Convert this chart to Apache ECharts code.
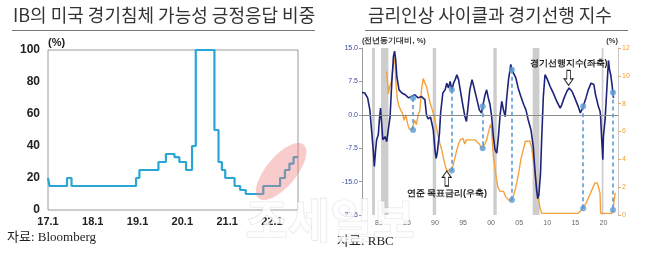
<!DOCTYPE html>
<html>
<head>
<meta charset="utf-8">
<script src="https://cdn.jsdelivr.net/npm/echarts@6/dist/echarts.min.js"></script>
<style>
html,body{margin:0;padding:0;background:#fff;}
#c{width:647px;height:257px;}
</style>
</head>
<body>
<div id="c"></div>
<script>
// ---------- Left chart: share of IBs answering "yes" to US recession (%), monthly, months since 2017.1 ----------
const ibMonths = [0, 0.4, 5.1, 6.3, 23.6, 24.5, 29.6, 31.6, 33.9, 35.2, 37.0, 38.6, 39.6, 44.6, 45.7, 46.6, 47.5, 50.0, 51.5, 53.0, 57.7, 62.2, 63.5, 64.7, 65.8, 67];
const ibValues = [20, 15, 20, 15, 20, 25, 30, 35, 33, 30, 25, 40, 100, 50, 30, 25, 20, 15, 12.5, 10, 15, 20, 25, 29, 33, 33];
const ibTickLabels = ['17.1', '18.1', '19.1', '20.1', '21.1', '22.1'];

// ---------- Right chart: leading index (YoY %, left axis) and Fed target rate (%, right axis) ----------
const leiYears = [1977.0,1977.5,1978.0,1978.4,1978.7,1979.0,1979.2,1979.4,1979.6,1979.9,1980.1,1980.3,1980.5,1980.7,1981.1,1981.4,1981.7,1982.0,1982.3,1982.6,1982.8,1983.0,1983.2,1983.6,1984.1,1984.7,1985.3,1985.8,1986.1,1986.4,1987.0,1987.6,1988.2,1988.5,1988.8,1989.2,1989.7,1990.0,1990.2,1990.4,1990.8,1991.0,1991.4,1991.8,1992.1,1992.4,1992.7,1993.0,1993.3,1993.6,1993.9,1994.2,1994.5,1994.9,1995.3,1995.6,1995.9,1996.2,1996.6,1996.9,1997.4,1997.9,1998.3,1998.5,1998.9,1999.2,1999.5,1999.8,2000.1,2000.4,2000.7,2001.0,2001.3,2001.6,2001.9,2002.2,2002.5,2002.8,2003.1,2003.5,2003.7,2004.0,2004.4,2004.9,2005.3,2005.8,2006.2,2006.6,2007.1,2007.5,2007.8,2008.1,2008.3,2008.5,2008.8,2009.0,2009.3,2009.6,2009.9,2010.5,2011.1,2011.7,2012.3,2012.6,2013.0,2013.5,2013.9,2014.4,2014.9,2015.5,2015.9,2016.4,2016.9,2017.3,2017.8,2018.3,2018.6,2019.1,2019.4,2019.5,2019.7,2019.9,2020.0,2020.3,2020.6,2020.9,2021.1,2021.3,2021.5,2021.7,2021.8];
const leiValues = [5.0,4.9,3.8,1.1,-3.4,-7.9,-11.6,-8.3,-5.6,-4.5,-1.1,1.5,-1.9,-5.6,-4.9,-6.0,-5.6,-0.4,7.1,13.1,14.3,12.4,8.6,5.6,4.9,4.5,3.8,4.1,3.75,4.5,3.8,4.1,3.4,-0.2,-0.9,-0.5,-3.4,-7.9,-9.8,-8.6,-4.1,0.4,4.9,5.6,7.1,6.0,7.5,5.6,7.1,7.9,9.0,7.9,5.6,2.6,-0.2,-1.5,1.9,5.6,7.9,6.4,3.8,1.1,0.4,1.9,4.4,5.6,3.8,2.3,-0.4,-4.9,-7.9,-8.6,-4.9,0.0,3.0,1.1,-0.4,4.1,7.9,11.3,10.1,10.3,8.3,5.6,4.1,2.3,1.1,-1.1,-3.4,-7.1,-12.4,-16.9,-18.8,-18.0,-13.1,-5.6,4.1,9.0,8.3,6.4,4.8,3.0,1.5,2.3,3.8,5.3,6.0,5.3,3.8,1.9,0.4,1.9,3.8,5.6,7.1,6.8,4.5,1.9,0.8,-0.4,-5.6,-10.1,-4.9,-1.1,5.6,12.2,10.1,9.0,7.1,5.0,3.8];

const fedYears = [1981.4,1981.7,1981.9,1982.2,1982.4,1982.6,1982.9,1983.0,1983.3,1983.6,1983.9,1984.2,1984.5,1984.8,1985.1,1985.4,1985.8,1986.1,1986.4,1986.7,1987.0,1987.3,1987.6,1987.9,1988.2,1988.5,1989.1,1989.7,1990.0,1990.3,1990.6,1990.9,1991.2,1991.5,1991.8,1992.1,1993.0,1993.3,1993.6,1993.9,1994.2,1994.5,1995.0,1995.3,1995.6,1997.1,1997.4,1997.9,1998.3,1998.6,1998.9,1999.2,1999.5,1999.9,2000.1,2000.2,2000.4,2000.8,2001.2,2001.6,2002.2,2002.6,2003.1,2003.7,2004.0,2004.4,2004.9,2005.3,2005.8,2006.1,2006.9,2007.2,2007.5,2007.8,2008.1,2008.4,2008.7,2009.0,2015.5,2016.1,2016.4,2016.9,2017.3,2017.7,2018.2,2018.5,2018.9,2019.1,2019.4,2019.5,2021.5,2021.7,2021.9,2022.1];
const fedValues = [10.3,8.7,9.2,9.5,10.2,10.8,11.3,9.7,8.3,7.8,7.8,7.3,6.8,7.2,6.6,6.2,6.1,6.1,6.8,6.5,7.2,7.5,9.0,9.8,9.7,9.2,8.1,7.3,6.8,6.2,5.6,5.1,4.7,4.1,3.6,3.2,3.2,3.7,4.2,4.7,5.1,5.4,5.5,5.1,5.4,5.4,5.5,5.1,4.8,4.8,5.1,5.4,5.9,6.5,6.2,5.4,4.2,3.0,2.0,1.7,1.7,1.3,1.07,1.07,1.4,2.0,3.0,4.0,4.8,5.3,5.3,4.9,4.0,3.0,2.3,1.3,0.5,0.12,0.12,0.36,0.48,0.84,1.2,1.56,2.04,2.3,2.3,2.04,1.56,0.12,0.12,0.36,0.5,1.6];

// recession shading
const recStart = [1978.8, 1980.4, 1989.6, 2000.4, 2007.4, 2019.7];
const recEnd   = [1979.3, 1981.7, 1990.2, 2001.0, 2008.6, 2020.0];

// start of rate-hike cycles: leading index value and Fed rate value at that moment
const hikeYears = [1986.1, 1993.0, 1998.5, 2003.7, 2016.4, 2021.7];
const hikeLei   = [3.75, 5.6, 1.9, 10.1, 1.9, 5.0];
const hikeRate  = [6.1, 3.2, 4.8, 1.07, 0.48, 0.36];

const yearLabels = [1980, 1985, 1990, 1995, 2000, 2005, 2010, 2015, 2020];

// axis ranges
const leftMin = -22.5, leftMax = 15, leftStep = 7.5;
const rightMin = 0, rightMax = 12, rightStep = 2;

function rateOnLeftAxis(r) {
  return leftMin + (r - rightMin) * (leftMax - leftMin) / (rightMax - rightMin);
}

const chart = echarts.init(document.getElementById('c'), null, {renderer: 'canvas'});

const arrowDown = 'path://M3,0L7,0L7,8L10,8L5,14L0,8L3,8Z';
const arrowUp = 'path://M5,0L10,6L7,6L7,14L3,14L3,6L0,6Z';

const option = {
  animation: false,
  backgroundColor: '#ffffff',
  grid: [
    {left: 48, top: 50, width: 250, height: 160, show: true, borderColor: '#9a9a9a', borderWidth: 1, backgroundColor: 'transparent'},
    {left: 362, top: 48, width: 256, height: 167}
  ],
  xAxis: [
    {
      gridIndex: 0, type: 'value', min: 0, max: 67, interval: 12,
      axisLine: {show: false}, axisTick: {show: false}, splitLine: {show: false},
      axisLabel: {
        margin: 6, color: '#222', fontSize: 11, fontWeight: 'bold', fontFamily: 'Arial, Liberation Sans, sans-serif',
        formatter: v => ibTickLabels[Math.round(v / 12)] || ''
      }
    },
    {
      gridIndex: 1, type: 'value', min: 1977, max: 2022.6,
      axisLine: {show: true, lineStyle: {color: '#b0b0b0'}},
      axisTick: {show: false},
      splitLine: {show: false},
      axisLabel: {
        customValues: yearLabels, margin: 5, color: '#666', fontSize: 7, fontFamily: 'Arial, Liberation Sans, sans-serif',
        formatter: v => String(Math.round(v) % 100).padStart(2, '0')
      }
    }
  ],
  yAxis: [
    {
      gridIndex: 0, type: 'value', min: 0, max: 100, interval: 20,
      name: '(%)', nameLocation: 'end', nameGap: 2,
      nameTextStyle: {color: '#222', fontSize: 11, fontWeight: 'bold', align: 'left', padding: [0, 0, 0, 0], fontFamily: 'Arial, Liberation Sans, sans-serif'},
      axisLine: {show: false}, axisTick: {show: false}, splitLine: {show: false},
      axisLabel: {margin: 8, color: '#222', fontSize: 12, fontWeight: 'bold', fontFamily: 'Arial, Liberation Sans, sans-serif'}
    },
    {
      gridIndex: 1, type: 'value', min: leftMin, max: leftMax, interval: leftStep, position: 'left',
      name: '(전년동기대비, %)', nameLocation: 'end', nameGap: 3,
      nameTextStyle: {color: '#333', fontSize: 7.5, fontWeight: 'bold', align: 'left', padding: [0, 0, 0, 0]},
      axisLine: {show: true, lineStyle: {color: '#9a9a9a'}},
      axisTick: {show: true, length: 3, lineStyle: {color: '#9a9a9a'}},
      splitLine: {show: false},
      axisLabel: {margin: 4, color: '#3a4a9a', fontSize: 7, fontFamily: 'Arial, Liberation Sans, sans-serif', formatter: v => v.toFixed(1)}
    },
    {
      gridIndex: 1, type: 'value', min: rightMin, max: rightMax, interval: rightStep, position: 'right',
      name: '(%)', nameLocation: 'end', nameGap: 3,
      nameTextStyle: {color: '#333', fontSize: 7.5, fontWeight: 'bold', align: 'right', padding: [0, 0, 0, 0]},
      axisLine: {show: true, lineStyle: {color: '#c8c8c8'}},
      axisTick: {show: true, length: 3, lineStyle: {color: '#e0b070'}},
      splitLine: {show: false},
      axisLabel: {margin: 4, color: '#f0a030', fontSize: 7, fontFamily: 'Arial, Liberation Sans, sans-serif'}
    }
  ],
  series: [
    {
      name: 'IB', type: 'line', xAxisIndex: 0, yAxisIndex: 0, step: 'end',
      data: ibMonths.map((m, i) => [m, ibValues[i]]),
      showSymbol: false, lineStyle: {color: '#2aa6d6', width: 2.2}, z: 3
    },
    {
      name: '연준 목표금리', type: 'line', xAxisIndex: 1, yAxisIndex: 2,
      data: fedYears.map((y, i) => [y, fedValues[i]]),
      showSymbol: false, lineStyle: {color: '#f4a23c', width: 1.4}, z: 3
    },
    {
      name: '경기선행지수', type: 'line', xAxisIndex: 1, yAxisIndex: 1,
      data: leiYears.map((y, i) => [y, leiValues[i]]),
      showSymbol: false, lineStyle: {color: '#1e237a', width: 1.6}, z: 4,
      markArea: {
        silent: true, z: 1,
        itemStyle: {color: '#cdcdcd'},
        data: recStart.map((s, i) => [{xAxis: s}, {xAxis: recEnd[i]}])
      },
      markLine: {
        silent: true, symbol: 'none', animation: false,
        lineStyle: {color: '#8a8a8a', width: 1, type: 'solid'},
        label: {show: false},
        data: [{yAxis: 0}]
      },
      markPoint: {
        silent: true,
        data: [
          {
            coord: [2013.8, 8.3], symbol: arrowDown, symbolSize: [9, 15], symbolKeepAspect: false,
            itemStyle: {color: '#ffffff', borderColor: '#222', borderWidth: 1},
            label: {show: true, position: 'top', distance: 2, formatter: '경기선행지수(좌축)', color: '#222', fontSize: 9, fontWeight: 'bold'}
          },
          {
            coord: [1992.1, -14.3], symbol: arrowUp, symbolSize: [9, 15], symbolKeepAspect: false,
            itemStyle: {color: '#ffffff', borderColor: '#222', borderWidth: 1},
            label: {show: true, position: 'bottom', distance: 2, formatter: '연준 목표금리(우축)', color: '#222', fontSize: 9, fontWeight: 'bold'}
          }
        ]
      }
    },
    {
      name: 'hikeLines', type: 'lines', coordinateSystem: 'cartesian2d', xAxisIndex: 1, yAxisIndex: 1,
      silent: true, z: 5,
      lineStyle: {color: '#5b9bd5', width: 1.6, type: [4, 3], opacity: 1, curveness: 0},
      data: hikeYears.map((y, i) => ({coords: [[y, hikeLei[i]], [y, rateOnLeftAxis(hikeRate[i])]]}))
    },
    {
      name: 'hikeTop', type: 'scatter', xAxisIndex: 1, yAxisIndex: 1, symbolSize: 6, z: 6,
      itemStyle: {color: '#5b9bd5'},
      data: hikeYears.map((y, i) => [y, hikeLei[i]])
    },
    {
      name: 'hikeBottom', type: 'scatter', xAxisIndex: 1, yAxisIndex: 2, symbolSize: 6, z: 6,
      itemStyle: {color: '#5b9bd5'},
      data: hikeYears.map((y, i) => [y, hikeRate[i]])
    }
  ],
  graphic: [
    {id: 'titleL', type: 'text', left: 13, top: 6, z: 10, style: {text: 'IB의 미국 경기침체 가능성 긍정응답 비중', fill: '#333', font: '18px "Noto Sans CJK KR", sans-serif'}},
    {id: 'ulineL', type: 'line', z: 10, shape: {x1: 12, y1: 30.5, x2: 315, y2: 30.5}, style: {stroke: '#777', lineWidth: 1}},
    {id: 'titleR', type: 'text', left: 368, top: 6, z: 10, style: {text: '금리인상 사이클과 경기선행 지수', fill: '#333', font: '18px "Noto Sans CJK KR", sans-serif'}},
    {id: 'ulineR', type: 'line', z: 10, shape: {x1: 365, y1: 30.5, x2: 628, y2: 30.5}, style: {stroke: '#777', lineWidth: 1}},
    {id: 'srcL', type: 'text', left: 7, top: 231, z: 10, style: {text: '자료: Bloomberg', fill: '#222', font: '13px "Liberation Serif", "Noto Sans CJK KR", serif'}},
    {id: 'srcR', type: 'text', left: 337, top: 235, z: 10, style: {text: '자료: RBC', fill: '#222', font: '13px "Liberation Serif", "Noto Sans CJK KR", serif'}},
    {id: 'wm', type: 'text', left: 245, top: 196, z: 20, style: {text: '조세일보', fill: 'rgba(255,255,255,0.8)', stroke: 'rgba(180,180,180,0.35)', lineWidth: 1.2, font: 'bold 46px "Noto Sans CJK KR", sans-serif'}}
  ]
};

chart.setOption(option);

// highlight ellipse around the latest rise (placed through the left chart's scales)
const centre = chart.convertToPixel({gridIndex: 0}, [62.5, 24]);
chart.setOption({
  graphic: [
    {id: 'highlight', type: 'ellipse', x: centre[0], y: centre[1], z: 15, rotation: 50 * Math.PI / 180,
     shape: {cx: 0, cy: 0, rx: 35, ry: 15}, style: {fill: 'rgba(240,120,120,0.38)'}}
  ]
});
</script>
</body>
</html>
